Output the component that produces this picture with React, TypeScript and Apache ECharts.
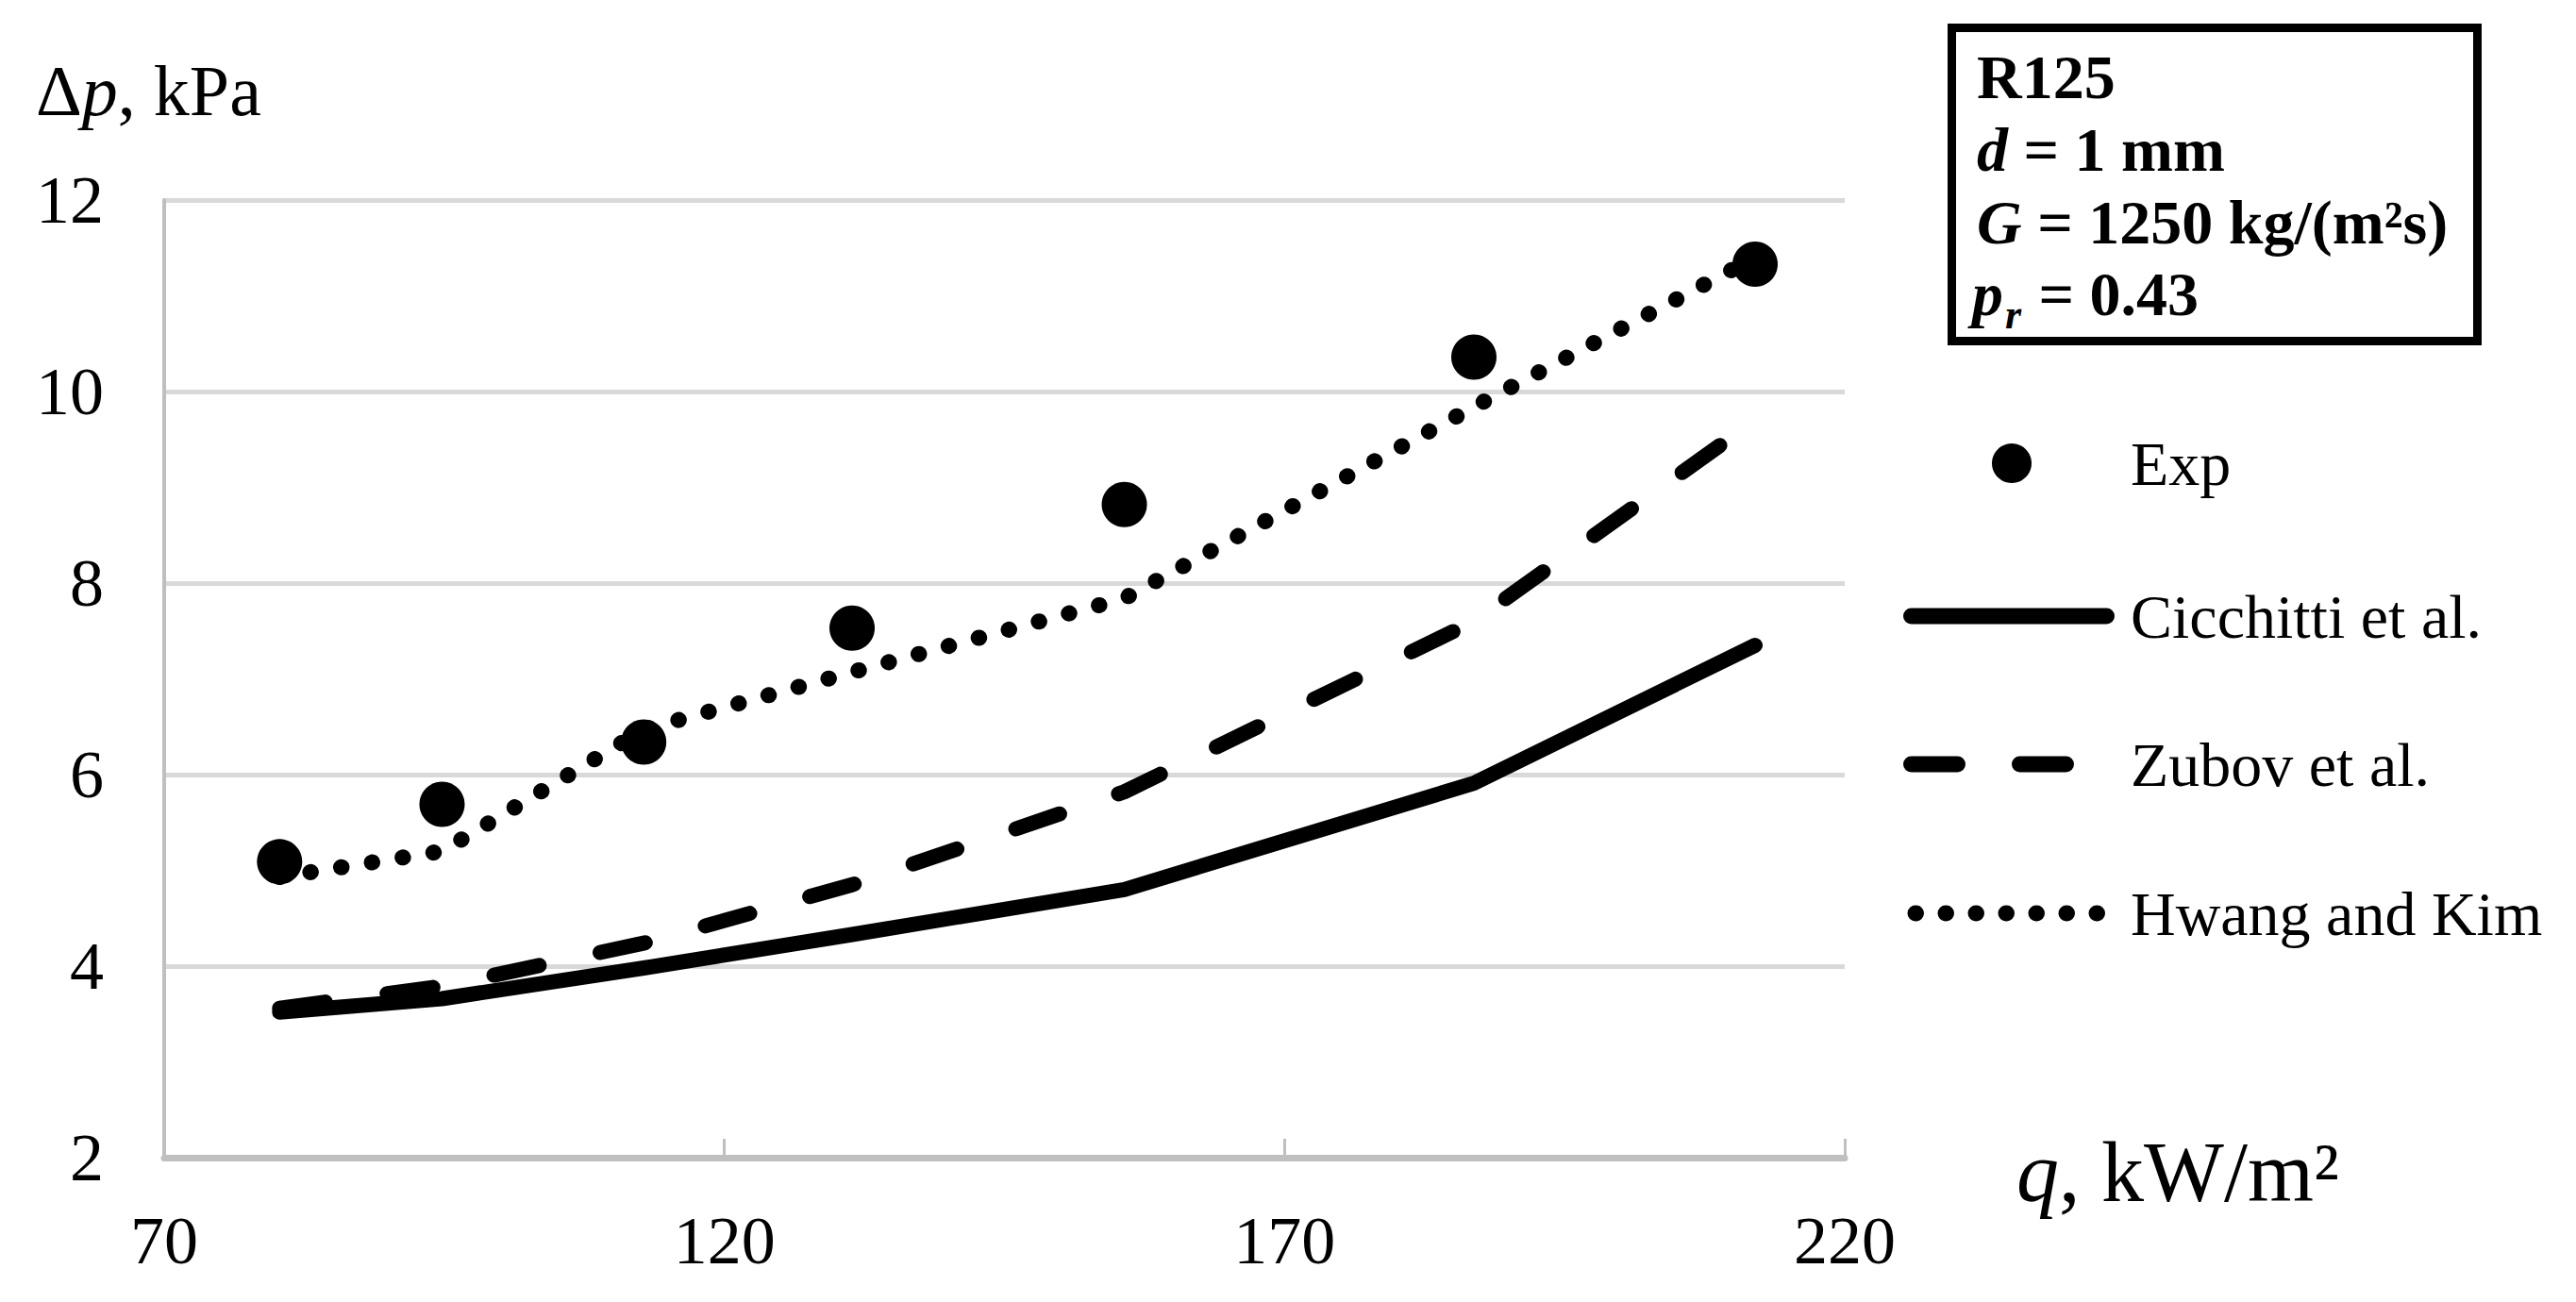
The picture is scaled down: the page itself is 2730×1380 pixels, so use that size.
import React, { useEffect, useRef } from 'react';
import * as echarts from 'echarts';

// Heat flux q, kW/m2
const qValues = [80.3, 94.8, 112.8, 131.4, 155.7, 186.9, 212.0];
// Pressure drop, kPa
const expValues = [5.09, 5.69, 6.34, 7.53, 8.82, 10.36, 11.33];
const cicchittiValues = [3.52, 3.66, 3.98, 4.33, 4.80, 5.91, 7.35];
const zubovValues = [3.56, 3.79, 4.24, 4.85, 5.82, 7.60, 9.70];
const hwangValues = [4.93, 5.20, 6.47, 7.07, 7.84, 9.84, 11.40];

const xTicks = [70, 120, 170, 220];
const yMin = 2;
const yMax = 12;
const yStep = 2;

const seriesNames = ['Exp', 'Cicchitti et al.', 'Zubov et al.', 'Hwang and Kim'];

const FONT = "'Liberation Serif', 'Times New Roman', Times, serif";

const pairs = (ys: number[]) => qValues.map((q, i) => [q, ys[i]]);

export default function App() {
  const ref = useRef<HTMLDivElement>(null);

  useEffect(() => {
    document.body.style.margin = '0';
    const chart = echarts.init(ref.current!, null, { renderer: 'svg' });

    const tok = (size: number, italic: boolean, bold: boolean) => ({
      fontSize: size,
      fontFamily: FONT,
      fontStyle: italic ? 'italic' : 'normal',
      fontWeight: bold ? 'bold' : 'normal',
      fill: '#000',
    });

    const boxFont = 66;
    const legendFont = 66;
    const tickFont = 72;
    const legendX = 2258;
    const legendY = [491, 653, 810, 968];

    chart.setOption({
      animation: false,
      backgroundColor: '#ffffff',
      grid: { left: 174, right: 775, top: 212, bottom: 153, containLabel: false },
      xAxis: {
        type: 'value',
        min: 70,
        max: 220,
        interval: 50,
        axisLine: { show: true, lineStyle: { color: '#bfbfbf', width: 7 } },
        axisTick: {
          show: true,
          inside: true,
          length: 20,
          lineStyle: { color: '#bfbfbf', width: 3 },
          customValues: xTicks,
        },
        axisLabel: {
          margin: 52,
          fontSize: tickFont,
          fontFamily: FONT,
          color: '#000',
          customValues: xTicks,
        },
        splitLine: { show: false },
      },
      yAxis: {
        type: 'value',
        min: yMin,
        max: yMax,
        interval: yStep,
        axisLine: { show: true, lineStyle: { color: '#bfbfbf', width: 4 } },
        axisTick: { show: false },
        axisLabel: { margin: 64, fontSize: tickFont, fontFamily: FONT, color: '#000' },
        splitLine: { show: true, lineStyle: { color: '#d9d9d9', width: 5 } },
      },
      series: [
        {
          name: seriesNames[1],
          type: 'line',
          data: pairs(cicchittiValues),
          symbol: 'none',
          lineStyle: { color: '#000', width: 16, cap: 'round', join: 'round' },
          z: 2,
        },
        {
          name: seriesNames[2],
          type: 'line',
          data: pairs(zubovValues),
          symbol: 'none',
          lineStyle: { color: '#000', width: 16, type: [49, 66], cap: 'round', join: 'round' },
          z: 2,
        },
        {
          name: seriesNames[3],
          type: 'line',
          data: pairs(hwangValues),
          symbol: 'none',
          lineStyle: { color: '#000', width: 17, type: [0.5, 32.5], cap: 'round', join: 'round' },
          z: 2,
        },
        {
          name: seriesNames[0],
          type: 'scatter',
          data: pairs(expValues),
          symbol: 'circle',
          symbolSize: 48,
          itemStyle: { color: '#000', opacity: 1 },
          z: 3,
        },
      ],
      graphic: {
        elements: [
          // axis titles
          {
            type: 'text',
            x: 38,
            y: 96,
            style: {
              text: '{n|Δ}{i|p}{n|, kPa}',
              verticalAlign: 'middle',
              align: 'left',
              rich: { n: tok(76, false, false), i: tok(76, true, false) },
            },
          },
          {
            type: 'text',
            x: 2137,
            y: 1242,
            style: {
              text: '{i|q}{n|, kW/m²}',
              verticalAlign: 'middle',
              align: 'left',
              rich: { n: tok(90, false, false), i: tok(90, true, false) },
            },
          },
          // annotation box
          {
            type: 'rect',
            shape: { x: 2068.5, y: 29.5, width: 557, height: 332 },
            style: { fill: '#fff', stroke: '#000', lineWidth: 9 },
          },
          {
            type: 'text',
            x: 2095,
            y: 81,
            style: { text: 'R125', ...tok(boxFont, false, true), verticalAlign: 'middle', align: 'left' },
          },
          {
            type: 'text',
            x: 2095,
            y: 158,
            style: {
              text: '{i|d}{b| = 1 mm}',
              verticalAlign: 'middle',
              align: 'left',
              rich: { i: tok(boxFont, true, true), b: tok(boxFont, false, true) },
            },
          },
          {
            type: 'text',
            x: 2095,
            y: 235,
            style: {
              text: '{i|G}{b| = 1250 kg/(m²s)}',
              verticalAlign: 'middle',
              align: 'left',
              rich: { i: tok(boxFont, true, true), b: tok(boxFont, false, true) },
            },
          },
          {
            type: 'text',
            x: 2090,
            y: 311,
            style: { text: 'p', ...tok(boxFont, true, true), verticalAlign: 'middle', align: 'left' },
          },
          {
            type: 'text',
            x: 2125,
            y: 333,
            style: { text: 'r', ...tok(44, true, true), verticalAlign: 'middle', align: 'left' },
          },
          {
            type: 'text',
            x: 2144,
            y: 311,
            style: { text: ' = 0.43', ...tok(boxFont, false, true), verticalAlign: 'middle', align: 'left' },
          },
          // legend
          {
            type: 'circle',
            shape: { cx: 2132, cy: legendY[0], r: 21 },
            style: { fill: '#000' },
          },
          {
            type: 'line',
            shape: { x1: 2025.5, y1: legendY[1], x2: 2232.5, y2: legendY[1] },
            style: { stroke: '#000', lineWidth: 17, lineCap: 'round' },
          },
          {
            type: 'line',
            shape: { x1: 2025.5, y1: legendY[2], x2: 2189.5, y2: legendY[2] },
            style: { stroke: '#000', lineWidth: 17, lineCap: 'round', lineDash: [49, 66] },
          },
          {
            type: 'line',
            shape: { x1: 2030, y1: legendY[3], x2: 2222.5, y2: legendY[3] },
            style: { stroke: '#000', lineWidth: 17, lineCap: 'round', lineDash: [0.5, 31.5] },
          },
          ...seriesNames.map((name, i) => ({
            type: 'text',
            x: legendX,
            y: legendY[i],
            style: { text: name, ...tok(legendFont, false, false), verticalAlign: 'middle', align: 'left' },
          })),
        ],
      },
    });

    return () => chart.dispose();
  }, []);

  return (
    <div
      ref={ref}
      style={{ position: 'absolute', left: 0, top: 0, width: 2730, height: 1380, background: '#fff' }}
    />
  );
}
